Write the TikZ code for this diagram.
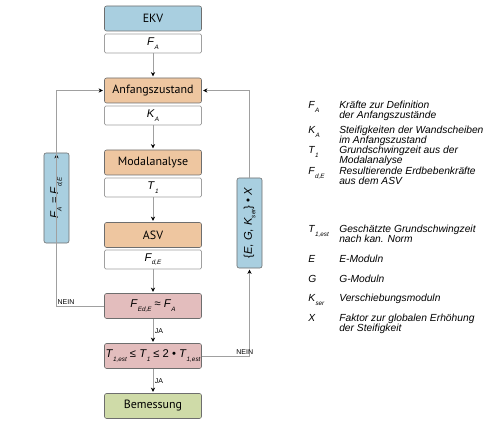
\documentclass[tikz,border=0pt]{standalone}
\usepackage{fontspec}
\setmainfont{Liberation Sans}
\newfontfamily\boxfont{PT Sans}
\usetikzlibrary{arrows.meta,positioning}
\definecolor{ekvblue}{HTML}{A9CFE0}
\definecolor{stateorange}{HTML}{EEC6A0}
\definecolor{checkred}{HTML}{E3BDBD}
\definecolor{bemgreen}{HTML}{CFDBA8}
\definecolor{boxgray}{HTML}{6E6E6E}
\definecolor{linegray}{HTML}{A0A0A0}
\newcommand{\idx}[2]{\textit{#1}\raisebox{-0.6ex}{\fontsize{4.5}{4.5}\selectfont\itshape #2}}
\newcommand{\twolines}[2]{\begin{tabular}[t]{@{}l@{}}#1\\#2\end{tabular}}

\begin{document}
\begin{tikzpicture}[x=0.025cm,y=-0.025cm,
  main node/.style={draw=boxgray,rounded corners=1.5pt,minimum width=2.425cm,minimum height=0.625cm,inner sep=0pt,font=\boxfont\fontsize{8.5}{9}\selectfont},
  value node/.style={draw=linegray,fill=white,rounded corners=1pt,minimum width=2.425cm,minimum height=0.475cm,inner sep=0pt,font=\fontsize{8}{9}\selectfont},
  check node/.style={main node,fill=checkred,font=\fontsize{8}{9}\selectfont},
  side node/.style={main node,fill=ekvblue,rotate=90,minimum width=2.25cm,minimum height=0.625cm,font=\fontsize{8}{9}\selectfont},
  flow/.style={draw=linegray,line width=0.6pt,-{Stealth[black,length=3pt,width=3pt]},shorten >=1pt},
  answer/.style={font=\fontsize{5}{6}\selectfont,inner sep=1pt},
  legend sym/.style={anchor=base west,inner sep=0pt,font=\fontsize{7.3}{8}\selectfont},
  legend text/.style={anchor=base west,inner sep=0pt,font=\itshape\fontsize{7.3}{5.5}\selectfont}]
\useasboundingbox (0,0) rectangle (500,425);

  % Define the main column
  \node[main node,fill=ekvblue] (EKV) at (153,18.5) {EKV};
  \node[value node] (FA) at (153,43.5) {\idx{F}{A}};
  \node[main node,fill=stateorange] (AZ) at (153,90.5) {Anfangszustand};
  \node[value node] (KA) at (153,115.5) {\idx{K}{A}};
  \node[main node,fill=stateorange] (MA) at (153,162.5) {Modalanalyse};
  \node[value node] (T1) at (153,187.5) {\idx{T}{1}};
  \node[main node,fill=stateorange] (ASV) at (153,235) {ASV};
  \node[value node] (FdE) at (153,259.5) {\idx{F}{d,E}};
  \node[check node] (C1) at (153,306) {\idx{F}{Ed,E} ≈ \idx{F}{A}};
  \node[check node] (C2) at (153,356) {\idx{T}{1,est} ≤ \idx{T}{1} ≤ 2 • \idx{T}{1,est}};
  \node[main node,fill=bemgreen] (BEM) at (153,406) {Bemessung};

  % Side boxes for the loops
  \node[side node] (LB) at (56.5,198) {\idx{F}{A} = \idx{F}{d,E}};
  \node[side node] (RB) at (249.5,223) {\{\textit{E}, \textit{G}, \idx{K}{ser}\} • \textit{X}};

  % Draw the connectors
  \draw[flow] (FA) -- (AZ);
  \draw[flow] (KA) -- (MA);
  \draw[flow] (T1) -- (ASV);
  \draw[flow] (FdE) -- (C1);
  \draw[flow] (C1) -- node[answer,right] {JA} (C2);
  \draw[flow] (C2) -- node[answer,right] {JA} (BEM);
  \draw[flow] (C1.west) -| node[answer,above,pos=0.4] {NEIN} (LB.east);
  \draw[flow] (LB.west) |- (AZ.west);
  \draw[flow] (C2.east) -| node[answer,above,pos=0.45] {NEIN} (RB.west);
  \draw[flow] (RB.east) |- (AZ.east);

  % Legend
  \node[legend sym] (sFA) at (308,109) {\idx{F}{A}};
  \node[legend text] (tFA) at (339,109) {\twolines{Kräfte zur Definition}{der Anfangszustände}};
  \node[legend sym] (sKA) at (308,134) {\idx{K}{A}};
  \node[legend text] (tKA) at (339,134) {\twolines{Steifigkeiten der Wandscheiben}{im Anfangszustand}};
  \node[legend sym] (sT1) at (308,154) {\idx{T}{1}};
  \node[legend text] (tT1) at (339,154) {\twolines{Grundschwingzeit aus der}{Modalanalyse}};
  \node[legend sym] (sFdE) at (308,175) {\idx{F}{d,E}};
  \node[legend text] (tFdE) at (339,175) {\twolines{Resultierende Erdbebenkräfte}{aus dem ASV}};
  \node[legend sym] (sTest) at (308,233) {\idx{T}{1,est}};
  \node[legend text] (tTest) at (339,233) {\twolines{Geschätzte Grundschwingzeit}{nach kan. Norm}};
  \node[legend sym] (sE) at (308,263) {\textit{E}};
  \node[legend text] (tE) at (339,263) {E-Moduln};
  \node[legend sym] (sG) at (308,283) {\textit{G}};
  \node[legend text] (tG) at (339,283) {G-Moduln};
  \node[legend sym] (sK) at (308,302) {\idx{K}{ser}};
  \node[legend text] (tK) at (339,302) {Verschiebungsmoduln};
  \node[legend sym] (sX) at (308,322) {\textit{X}};
  \node[legend text] (tX) at (339,322) {\twolines{Faktor zur globalen Erhöhung}{der Steifigkeit}};
\end{tikzpicture}
\end{document}
